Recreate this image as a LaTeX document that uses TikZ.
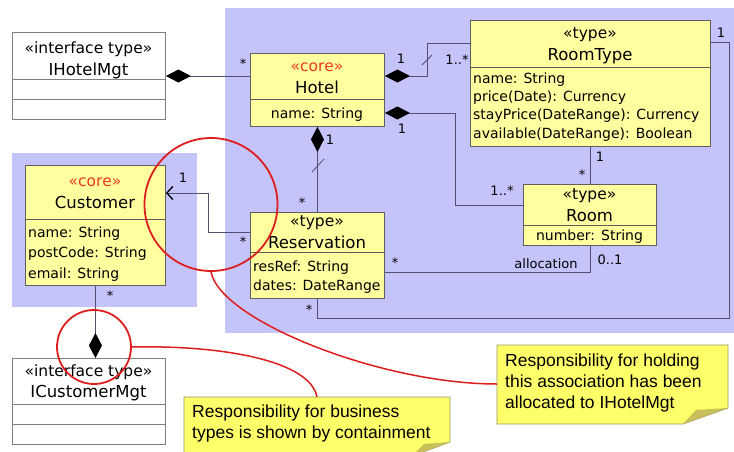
\documentclass[tikz,border=0pt]{standalone}
\usepackage{fontspec}
\setmainfont{DejaVu Sans}
\newfontfamily\notefont{Liberation Sans}
\usetikzlibrary{arrows.meta}
\definecolor{bluebg}{RGB}{196,196,250}
\definecolor{umlyellow}{RGB}{255,255,160}
\definecolor{boxline}{RGB}{95,95,95}
\definecolor{wire}{RGB}{80,80,115}
\definecolor{corered}{RGB}{235,60,30}
\definecolor{redmark}{RGB}{222,30,30}
\definecolor{notefill}{RGB}{255,255,105}
\definecolor{noteline}{RGB}{150,150,95}
\definecolor{foldfill}{RGB}{200,190,90}
\begin{document}
\begin{tikzpicture}[x=1pt,y=-1pt,
  umlbox/.style={draw=boxline,fill=umlyellow,line width=0.9pt,anchor=north west,inner sep=0pt},
  ifbox/.style={draw=boxline!80,fill=white,line width=0.9pt,anchor=north west,inner sep=0pt},
  stereo/.style={font=\fontsize{15.5}{17}\selectfont,anchor=base,inner sep=0pt},
  corestereo/.style={stereo,text=corered},
  cname/.style={font=\fontsize{16.5}{18}\selectfont,anchor=base,inner sep=0pt},
  attr/.style={font=\fontsize{14}{16}\selectfont,anchor=base west,inner sep=0pt},
  mult/.style={font=\fontsize{13}{15}\selectfont,inner sep=0pt},
  assoc/.style={draw=wire,line width=0.8pt},
  owns/.style={arrows={Diamond[length=25pt,width=13pt,color=black,fill=black]-}},
  ownsend/.style={arrows={-Diamond[length=25pt,width=13pt,color=black,fill=black]}},
  navto/.style={arrows={-Straight Barb[length=6pt,width=13pt,line width=1.3pt,color=black]}},
  ring/.style={circle,draw=redmark,line width=1.8pt,inner sep=0pt},
  redline/.style={draw=redmark,line width=1.5pt},
  note/.style={fill=notefill,draw=noteline,line width=0.8pt},
  notetext/.style={font=\notefont\fontsize{17.5}{21}\selectfont,align=left,anchor=north west,inner sep=0pt}]
 \useasboundingbox (0,0) rectangle (734,451);
 % blue areas
 \fill[bluebg] (225,8) rectangle (734,333);
 \fill[bluebg] (12,153) rectangle (197,307);
 % interfaces
 \node[ifbox,minimum width=153pt,minimum height=87pt] (ihotel) at (12,32) {};
 \draw[boxline!80] (ihotel.west |- 0,79) -- (ihotel.east |- 0,79);
 \draw[boxline!80] (ihotel.west |- 0,99) -- (ihotel.east |- 0,99);
 \node[stereo] (ihotelst) at (88.5,53) {«interface type»};
 \node[cname] (ihotelnm) at (88.5,75) {IHotelMgt};
 \node[ifbox,minimum width=153pt,minimum height=86pt] (icust) at (12,358) {};
 \draw[boxline!80] (icust.west |- 0,404) -- (icust.east |- 0,404);
 \draw[boxline!80] (icust.west |- 0,424) -- (icust.east |- 0,424);
 \node[stereo] (icustst) at (88.5,376) {«interface type»};
 \node[cname] (icustnm) at (88.5,397) {ICustomerMgt};
 % classes
 \node[umlbox,minimum width=134pt,minimum height=73pt] (hotel) at (250,53) {};
 \draw[boxline] (hotel.west |- 0,99) -- (hotel.east |- 0,99);
 \node[corestereo] (hotelst) at (317,71) {«core»};
 \node[cname] (hotelnm) at (317,93) {Hotel};
 \node[attr,anchor=base] (hotelat) at (317,118) {name: String};
 \node[umlbox,minimum width=240pt,minimum height=126pt] (roomtype) at (470,20) {};
 \draw[boxline] (roomtype.west |- 0,67) -- (roomtype.east |- 0,67);
 \node[stereo] (roomtypest) at (590,38) {«type»};
 \node[cname] (roomtypenm) at (590,60) {RoomType};
 \node[attr] (rtat1) at (473,83) {name: String};
 \node[attr] (rtat2) at (473,101.3) {price(Date): Currency};
 \node[attr] (rtat3) at (473,119.6) {stayPrice(DateRange): Currency};
 \node[attr] (rtat4) at (473,138) {available(DateRange): Boolean};
 \node[umlbox,minimum width=140pt,minimum height=120pt] (customer) at (25,165) {};
 \draw[boxline] (customer.west |- 0,219) -- (customer.east |- 0,219);
 \node[corestereo] (customerst) at (95,186) {«core»};
 \node[cname] (customernm) at (95,208) {Customer};
 \node[attr] (cuat1) at (28,237) {name: String};
 \node[attr] (cuat2) at (28,257) {postCode: String};
 \node[attr] (cuat3) at (28,278) {email: String};
 \node[umlbox,minimum width=134pt,minimum height=86pt] (reservation) at (250,212) {};
 \draw[boxline] (reservation.west |- 0,252) -- (reservation.east |- 0,252);
 \node[stereo] (reservationst) at (317,226) {«type»};
 \node[cname] (reservationnm) at (317,248) {Reservation};
 \node[attr] (reat1) at (253,271) {resRef: String};
 \node[attr] (reat2) at (253,290) {dates: DateRange};
 \node[umlbox,minimum width=133pt,minimum height=61pt] (room) at (523,184) {};
 \draw[boxline] (room.west |- 0,225) -- (room.east |- 0,225);
 \node[stereo] (roomst) at (589.5,199) {«type»};
 \node[cname] (roomnm) at (589.5,221) {Room};
 \node[attr,anchor=base] (roomat) at (589.5,240) {number: String};
 % associations
 \draw[assoc,owns] (ihotel.east |- 0,76) -- (hotel.west |- 0,76);
 \draw[assoc,owns] (hotel.east |- 0,76) -| (427,43) -- (roomtype.west |- 0,43);
 \draw[assoc] (422,65) -- (432,55);
 \draw[assoc,owns] (hotel.east |- 0,113) -| (455,205) -- (room.west |- 0,205);
 \draw[assoc,owns] (hotel.south) -- (reservation.north);
 \draw[assoc] (312,172) -- (324,159);
 \draw[assoc] (roomtype.south -| room.north) -- (room.north);
 \draw[assoc] (reservation.east |- 0,272) -| (room.south);
 \draw[assoc] (reservation.south) |- (729,318) |- (roomtype.east |- 0,42);
 \draw[assoc,navto] (reservation.west |- 0,232) -| (208,193) -- (customer.east |- 0,193);
 \draw[assoc,ownsend] (customer.south) -- (customer.south |- icust.north);
 % multiplicities
 \node[mult] (m1) at (243,64) {*};
 \node[mult] (m2) at (401,59) {1};
 \node[mult] (m3) at (457,60) {1..*};
 \node[mult] (m4) at (402,129) {1};
 \node[mult] (m5) at (330,140) {1};
 \node[mult] (m6) at (302,203) {*};
 \node[mult] (m7) at (502,191) {1..*};
 \node[mult] (m8) at (600,157) {1};
 \node[mult] (m9) at (582,175) {*};
 \node[mult] (m10) at (395,263) {*};
 \node[mult] (m11) at (546,264) {allocation};
 \node[mult] (m12) at (610,260) {0..1};
 \node[mult] (m13) at (721,33) {1};
 \node[mult] (m14) at (309,310) {*};
 \node[mult] (m15) at (183,178) {1};
 \node[mult] (m16) at (243,242) {*};
 \node[mult] (m17) at (110,296) {*};
 % notes
 \draw[note] (497,345) -- (728,345) -- (728,408) -- (683,424) -- (497,424) -- cycle;
 \fill[foldfill] (683,424) -- (696,410) -- (728,408) -- cycle;
 \node[notetext] (rnote) at (505,354) {Responsibility for holding\\this association has been\\allocated to IHotelMgt};
 \draw[note] (184,397) -- (450,397) -- (450,442) -- (412,456) -- (184,456) -- cycle;
 \fill[foldfill] (412,456) -- (424,444) -- (450,442) -- cycle;
 \node[notetext] (lnote) at (192,405) {Responsibility for business\\types is shown by containment};
 \coordinate (rnotein) at (497,384);
 \coordinate (lnotein) at (317,397);
 % red marks
 \node[ring,minimum size=133pt] (bigring) at (211,204.5) {};
 \node[ring,minimum size=74pt] (smallring) at (94,347) {};
 \draw[redline] (bigring.south) .. controls (220,320) and (380,384) .. (rnotein);
 \draw[redline] (smallring.east) .. controls (220,345) and (310,360) .. (lnotein);
\end{tikzpicture}
\end{document}
